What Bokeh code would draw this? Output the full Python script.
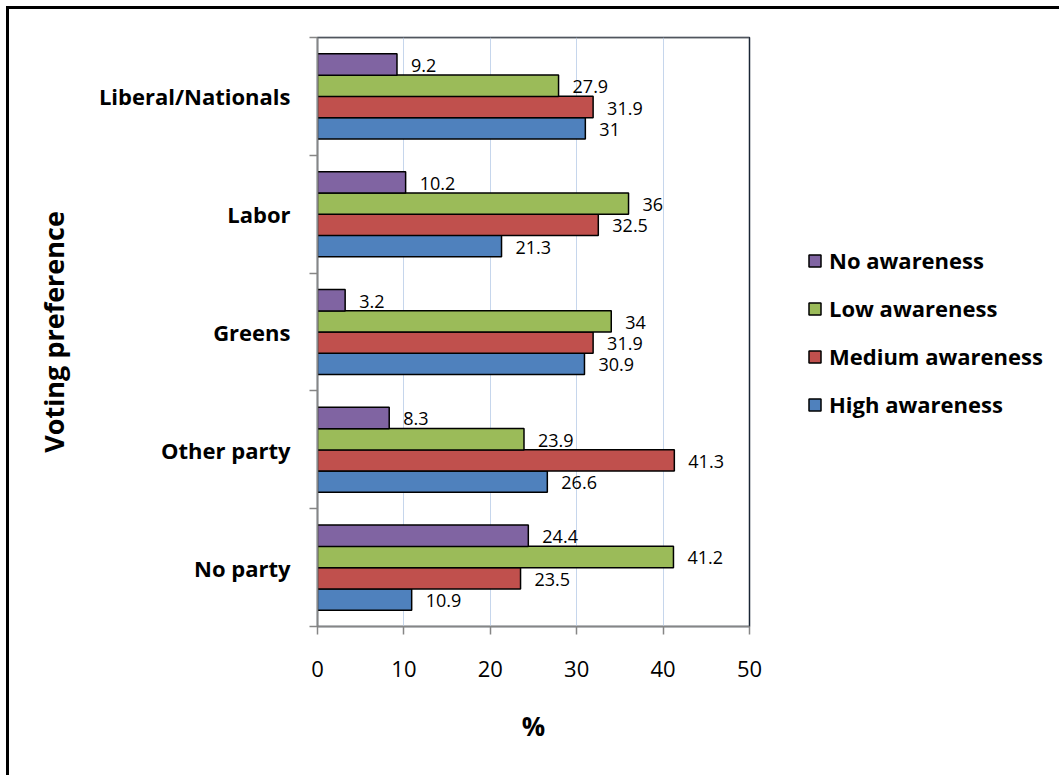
from bokeh.plotting import figure
from bokeh.models import (ColumnDataSource, FixedTicker, Legend, LegendItem, Span)
from bokeh.embed import file_html
from bokeh.resources import INLINE
from bokeh.core.properties import value

# ---- data (bottom to top) ----
categories = ["No party", "Other party", "Greens", "Labor", "Liberal/Nationals"]
high_awareness = [10.9, 26.6, 30.9, 21.3, 31.0]
medium_awareness = [23.5, 41.3, 31.9, 32.5, 31.9]
low_awareness = [41.2, 23.9, 34.0, 36.0, 27.9]
no_awareness = [24.4, 8.3, 3.2, 10.2, 9.2]
x_ticks = [0, 10, 20, 30, 40, 50]

series = [
    ("High awareness", high_awareness, "#4F81BD", -0.27),
    ("Medium awareness", medium_awareness, "#C0504D", -0.09),
    ("Low awareness", low_awareness, "#9BBB59", 0.09),
    ("No awareness", no_awareness, "#8064A2", 0.27),
]

FONT = "Open Sans"
centers = [i + 0.5 for i in range(len(categories))]

p = figure(
    output_backend="svg", toolbar_location=None,
    x_range=(0, 50), y_range=(0, len(categories)),
    frame_width=432, frame_height=589,
    min_border_left=308, min_border_right=310,
    min_border_top=28, min_border_bottom=149,
)
p.styles = {"border-top": "3px solid black", "border-left": "3px solid black",
            "margin-top": "6px", "margin-left": "6px"}
p.background_fill_color = "white"
p.border_fill_color = "white"
p.outline_line_color = "#1a2535"
p.outline_line_width = 1.5

# grid
p.ygrid.visible = False
p.xgrid.ticker = FixedTicker(ticks=x_ticks)
p.xgrid.grid_line_color = "#C6D6EC"
p.xgrid.grid_line_width = 1

# x axis
p.xaxis.ticker = FixedTicker(ticks=x_ticks, minor_ticks=[])
p.xaxis.axis_line_color = "#868686"
p.xaxis.axis_line_width = 1.5
p.xaxis.major_tick_line_color = "#868686"
p.xaxis.major_tick_line_width = 1.5
p.xaxis.major_tick_out = 8
p.xaxis.major_tick_in = 0
p.xaxis.minor_tick_line_color = None
p.xaxis.major_label_text_font = FONT
p.xaxis.major_label_text_font_size = "22px"
p.xaxis.major_label_text_color = "black"
p.xaxis.major_label_standoff = 26
p.xaxis.axis_label = "%"
p.xaxis.axis_label_text_font = FONT
p.xaxis.axis_label_text_font_size = "26px"
p.xaxis.axis_label_text_font_style = "bold"
p.xaxis.axis_label_text_color = "black"
p.xaxis.axis_label_standoff = 28

# y axis
p.yaxis.ticker = FixedTicker(ticks=centers, minor_ticks=list(range(len(categories) + 1)))
p.yaxis.major_label_overrides = {c: name for c, name in zip(centers, categories)}
p.yaxis.axis_line_color = "#868686"
p.yaxis.axis_line_width = 1.5
p.yaxis.major_tick_line_color = None
p.yaxis.major_tick_out = 0
p.yaxis.major_tick_in = 0
p.yaxis.minor_tick_line_color = "#868686"
p.yaxis.minor_tick_line_width = 1.5
p.yaxis.minor_tick_out = 8
p.yaxis.minor_tick_in = 0
p.yaxis.major_label_text_font = FONT
p.yaxis.major_label_text_font_size = "22px"
p.yaxis.major_label_text_font_style = "bold"
p.yaxis.major_label_text_color = "black"
p.yaxis.major_label_standoff = 19
p.yaxis.axis_label = "Voting preference"
p.yaxis.axis_label_text_font = FONT
p.yaxis.axis_label_text_font_size = "27px"
p.yaxis.axis_label_text_font_style = "bold"
p.yaxis.axis_label_text_color = "black"
p.yaxis.axis_label_standoff = 24

p.add_layout(Span(location=len(categories), dimension="width",
                  line_color="#868686", line_width=1.5))

items = {}
for name, vals, color, off in series:
    src = ColumnDataSource(dict(
        y=[c + off for c in centers],
        v=vals,
        lbl=[("%g" % v) for v in vals],
    ))
    r = p.hbar(y="y", right="v", left=0, height=0.182, source=src,
               fill_color=color, line_color="black", line_width=1.5)
    p.text(x="v", y="y", text="lbl", source=src, x_offset=14, y_offset=1,
           text_baseline="middle", text_align="left",
           text_font=value(FONT), text_font_size="18px", text_color="black")
    items[name] = r

legend = Legend(
    items=[LegendItem(label=n, renderers=[items[n]]) for n in
           ["No awareness", "Low awareness", "Medium awareness", "High awareness"]],
    location=(58, 207),
    glyph_width=15, glyph_height=15, label_height=24, spacing=18,
    label_standoff=7, padding=0, margin=0,
    border_line_color=None, background_fill_alpha=0,
    label_text_font=FONT, label_text_font_size="22px",
    label_text_font_style="bold", label_text_color="black",
)
p.add_layout(legend, "right")

open("out.html", "w").write(file_html(p, INLINE))
